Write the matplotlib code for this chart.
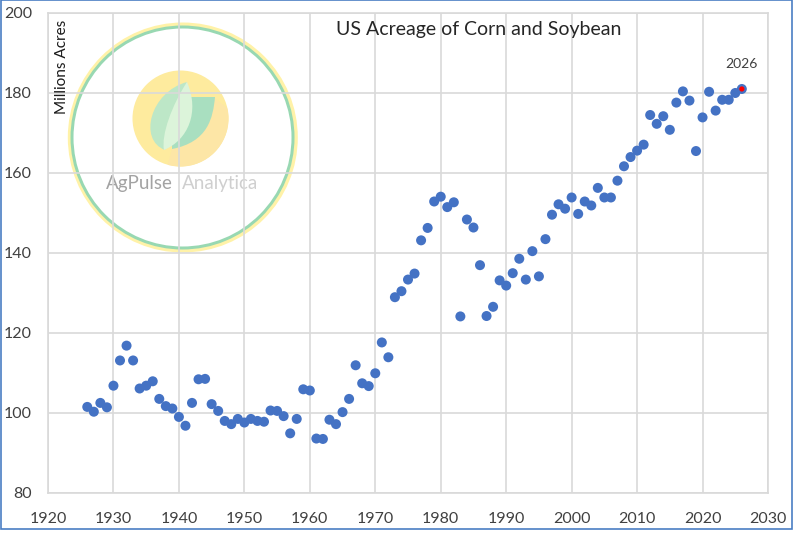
import matplotlib
matplotlib.use("Agg")
import matplotlib.pyplot as plt
from matplotlib.patches import Circle, PathPatch, Rectangle, Polygon
from matplotlib.path import Path

plt.rcParams['font.family'] = ['Lato', 'DejaVu Sans']

# US corn + soybean planted acreage, million acres
years = list(range(1926, 2027))
acres = [
    101.5, 100.3, 102.5, 101.4, 106.8, 113.1, 116.8, 113.1, 106.1, 106.8,   # 1926-1935
    107.9, 103.5, 101.7, 101.1, 99.0, 96.8, 102.5, 108.4, 108.5, 102.2,     # 1936-1945
    100.5, 98.0, 97.2, 98.5, 97.6, 98.5, 98.0, 97.8, 100.6, 100.5,          # 1946-1955
    99.2, 94.9, 98.5, 105.9, 105.6, 93.6, 93.5, 98.3, 97.2, 100.2,          # 1956-1965
    103.5, 111.9, 107.4, 106.7, 109.9, 117.6, 113.9, 128.9, 130.4, 133.3,   # 1966-1975
    134.8, 143.1, 146.2, 152.8, 154.0, 151.4, 152.6, 124.1, 148.3, 146.3,   # 1976-1985
    136.9, 124.2, 126.5, 133.1, 131.8, 134.9, 138.5, 133.3, 140.4, 134.1,   # 1986-1995
    143.4, 149.5, 152.1, 151.0, 153.8, 149.7, 152.8, 151.8, 156.2, 153.8,   # 1996-2005
    153.8, 158.0, 161.6, 163.9, 165.5, 167.0, 174.4, 172.2, 174.1, 170.7,   # 2006-2015
    177.5, 180.3, 178.0, 165.4, 173.8, 180.2, 175.5, 178.2, 178.2, 179.9,   # 2016-2025
    180.9,                                                                  # 2026
]
highlight_year = 2026
highlight_value = acres[years.index(highlight_year)]

xticks = list(range(1920, 2031, 10))
yticks = list(range(80, 201, 20))

W, H = 800, 533
fig = plt.figure(figsize=(W / 100, H / 100), dpi=100)
ax = fig.add_axes([48 / W, 1 - 493 / H, 720 / W, 480.5 / H])

grid_col = '#D9D9D9'
text_col = '#404040'

ax.scatter(years, acres, s=52, color='#4472C4', edgecolors='none', zorder=3)
ax.scatter([highlight_year], [highlight_value], s=14, color='#FF0000',
           edgecolors='none', zorder=4)
ax.annotate(str(highlight_year), (highlight_year, highlight_value),
            xytext=(0, 14), textcoords='offset points', ha='center',
            va='bottom', fontsize=10, color=text_col)

ax.set_xlim(1920, 2030)
ax.set_ylim(80, 200)
ax.set_xticks(xticks)
ax.set_yticks(yticks)
ax.grid(True, color=grid_col, linewidth=1.2)
ax.set_axisbelow(True)
for sp in ax.spines.values():
    sp.set_color(grid_col)
    sp.set_linewidth(1.2)
ax.tick_params(axis='both', length=0, labelsize=11.5, colors=text_col)
ax.tick_params(axis='y', pad=11.5)
ax.tick_params(axis='x', pad=13.5)

fig.text(479 / W, 1 - 30 / H, 'US Acreage of Corn and Soybean',
         ha='center', va='center', fontsize=14, color='#262626')
fig.text(62 / W, 1 - 20 / H, 'Millions Acres', rotation=90,
         ha='center', va='top', fontsize=11, color='#1a1a1a')


# --- AgPulse watermark (pixel coords -> inches), drawn under the grid ---
def px(x, y):
    return (x / 100, (H - y) / 100)


tr = fig.dpi_scale_trans
zw = 0.3
ax.add_patch(Circle(px(182.8, 137.5), 1.125, transform=tr, fill=False,
                    edgecolor='#FFF2A8', linewidth=5 * 0.72, zorder=zw, clip_on=False))
ax.add_patch(Circle(px(182.5, 137.5), 1.105, transform=tr, fill=False,
                    edgecolor='#98D8B2', linewidth=3 * 0.72, zorder=zw, clip_on=False))

disc = Circle(px(180.5, 118.5), 0.48, transform=tr, facecolor='#FEEB9E',
              edgecolor='none', zorder=zw)
ax.add_patch(disc)
shadow = Polygon([px(213, 97), px(240, 118), px(236, 175), px(165, 175), px(172, 149)],
                 closed=True, transform=tr, facecolor='#FDE6A6', edgecolor='none', zorder=zw)
ax.add_patch(shadow)
shadow.set_clip_path(disc)


def leaf(points, codes, color):
    p = Path([px(*q) for q in points], codes)
    ax.add_patch(PathPatch(p, transform=tr, facecolor=color, edgecolor='none', zorder=zw))


C4, M, L = Path.CURVE4, Path.MOVETO, Path.LINETO
leaf([(187, 82), (150, 92), (138, 140), (165, 150), (172, 130), (180, 100), (187, 82)],
     [M, C4, C4, C4, C4, C4, C4], '#BDE7C7')
leaf([(190, 97), (215, 97), (213, 118), (208, 142), (172, 149), (172, 140),
      (186, 128), (190, 110), (190, 97)],
     [M, L, C4, C4, C4, L, C4, C4, C4], '#A9DFC0')
leaf([(187, 82), (172, 105), (161, 135), (164, 150), (188, 140), (200, 112), (187, 82)],
     [M, C4, C4, C4, C4, C4, C4], '#DCF4DA')

ax.text(*px(139, 183), 'AgPulse', transform=tr, ha='center', va='center',
        fontsize=13.5, color='#A3A3A3', zorder=zw)
ax.text(*px(220, 183), 'Analytica', transform=tr, ha='center', va='center',
        fontsize=13.5, color='#CFCFCF', zorder=zw)

# outer chart border
fig.patches.append(Rectangle((1 / W, 1 - 529 / H), 791 / W, 529 / H,
                             transform=fig.transFigure, fill=False,
                             edgecolor='#4A7EC4', linewidth=1.2))

fig.savefig('out.png', dpi=100)
